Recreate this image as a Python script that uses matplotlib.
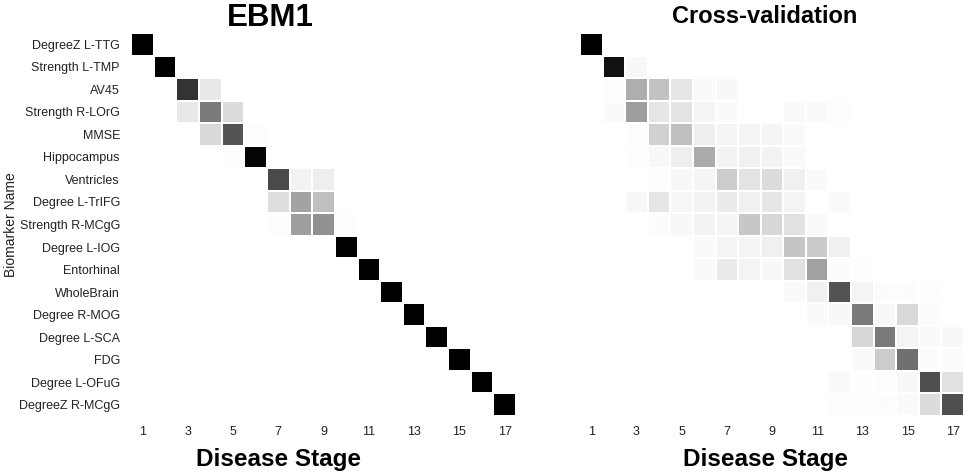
import numpy as np
import matplotlib.pyplot as plt

plt.rcParams['font.family'] = ['Liberation Sans', 'DejaVu Sans']

# biomarkers in the EBM1 order (top to bottom)
biomarkers = ["DegreeZ L-TTG", "Strength L-TMP", "AV45", "Strength R-LOrG", "MMSE",
              "Hippocampus", "Ventricles", "Degree L-TrIFG", "Strength R-MCgG",
              "Degree L-IOG", "Entorhinal", "WholeBrain", "Degree R-MOG",
              "Degree L-SCA", "FDG", "Degree L-OFuG", "DegreeZ R-MCgG"]
stages = list(range(1, 18))
stage_ticks = [1, 3, 5, 7, 9, 11, 13, 15, 17]

# positional variance, EBM1: {row: {stage: probability}}
ebm1_rows = {
    1: {1: 1.0},
    2: {2: 1.0},
    3: {3: 0.80, 4: 0.09},
    4: {3: 0.09, 4: 0.52, 5: 0.14},
    5: {4: 0.15, 5: 0.67, 6: 0.01},
    6: {5: 0.01, 6: 0.98},
    7: {7: 0.71, 8: 0.05, 9: 0.07},
    8: {7: 0.13, 8: 0.36, 9: 0.25},
    9: {7: 0.01, 8: 0.38, 9: 0.43, 10: 0.01},
    10: {10: 1.0},
    11: {11: 1.0},
    12: {12: 1.0},
    13: {13: 1.0},
    14: {14: 1.0},
    15: {15: 1.0},
    16: {16: 1.0},
    17: {17: 1.0},
}

# positional variance, cross-validation
cv_rows = {
    1: {1: 1.0},
    2: {2: 0.93, 3: 0.03},
    3: {2: 0.01, 3: 0.32, 4: 0.24, 5: 0.10, 6: 0.02, 7: 0.03},
    4: {2: 0.02, 3: 0.38, 4: 0.10, 5: 0.11, 6: 0.04, 7: 0.02, 10: 0.02, 11: 0.02, 12: 0.01},
    5: {3: 0.01, 4: 0.18, 5: 0.25, 6: 0.07, 7: 0.04, 8: 0.04, 9: 0.04, 10: 0.02},
    6: {3: 0.01, 4: 0.03, 5: 0.07, 6: 0.33, 7: 0.05, 8: 0.06, 9: 0.05, 10: 0.02},
    7: {4: 0.01, 5: 0.03, 6: 0.04, 7: 0.20, 8: 0.11, 9: 0.14, 10: 0.06, 11: 0.02},
    8: {3: 0.03, 4: 0.10, 5: 0.035, 6: 0.05, 7: 0.08, 8: 0.06, 9: 0.105, 10: 0.045, 12: 0.02},
    9: {4: 0.012, 5: 0.03, 6: 0.05, 7: 0.045, 8: 0.22, 9: 0.16, 10: 0.12, 11: 0.02},
    10: {6: 0.02, 7: 0.045, 8: 0.045, 9: 0.06, 10: 0.23, 11: 0.21, 12: 0.06},
    11: {6: 0.02, 7: 0.08, 8: 0.045, 9: 0.03, 10: 0.12, 11: 0.37, 12: 0.012, 13: 0.008},
    12: {10: 0.02, 11: 0.06, 12: 0.67, 13: 0.045, 14: 0.012, 15: 0.012, 16: 0.008},
    13: {11: 0.02, 12: 0.03, 13: 0.52, 14: 0.03, 15: 0.15, 16: 0.012},
    14: {13: 0.16, 14: 0.52, 15: 0.045, 16: 0.02, 17: 0.03},
    15: {13: 0.02, 14: 0.20, 15: 0.56, 16: 0.012, 17: 0.012},
    16: {12: 0.02, 13: 0.006, 14: 0.008, 15: 0.03, 16: 0.69, 17: 0.12},
    17: {12: 0.008, 13: 0.008, 14: 0.012, 15: 0.02, 16: 0.14, 17: 0.69},
}


def to_matrix(rows):
    m = np.zeros((len(biomarkers), len(stages)))
    for r, cols in rows.items():
        for c, v in cols.items():
            m[r - 1, c - 1] = v
    return m


fig = plt.figure(figsize=(9.65, 4.74), dpi=100)
ax1 = fig.add_axes([0.1358, 0.1224, 0.399, 0.808])
ax2 = fig.add_axes([0.601, 0.1224, 0.398, 0.808])

edges_x = np.arange(0.5, 18.5, 1)
edges_y = np.arange(0.5, 18.5, 1)

for ax, rows in [(ax1, ebm1_rows), (ax2, cv_rows)]:
    ax.pcolormesh(edges_x, edges_y, to_matrix(rows), cmap='gray_r', vmin=0, vmax=1,
                  edgecolors='white', linewidth=1.2)
    ax.set_xlim(0.5, 17.5)
    ax.set_ylim(17.5, 0.5)
    ax.set_xticks(stage_ticks)
    ax.set_xticklabels([str(s) for s in stage_ticks], fontsize=9, color='#222222')
    ax.tick_params(length=0, pad=7)
    ax.set_xlabel("Disease Stage", fontsize=17.5, fontweight='bold')
    for s in ax.spines.values():
        s.set_visible(False)

ax1.xaxis.set_label_coords(0.384, -0.083, transform=ax1.transAxes)
ax1.xaxis.label.set_va('top')
ax2.xaxis.set_label_coords(0.482, -0.083, transform=ax2.transAxes)
ax2.xaxis.label.set_va('top')

ax1.set_yticks(stages)
ax1.set_yticklabels(biomarkers, fontsize=9, color='#222222')
ax1.tick_params(axis='y', pad=8)
ax2.set_yticks([])

fig.text(0.004, 0.527, "Biomarker Name", rotation=90, fontsize=10,
         ha='left', va='center', color='#222222')
fig.text(270 / 965, 0.962, "EBM1", fontsize=22.5, fontweight='bold', ha='center', va='center')
fig.text(765 / 965, 0.965, "Cross-validation", fontsize=17, fontweight='bold',
         ha='center', va='center')

fig.savefig("out.png", dpi=100)
